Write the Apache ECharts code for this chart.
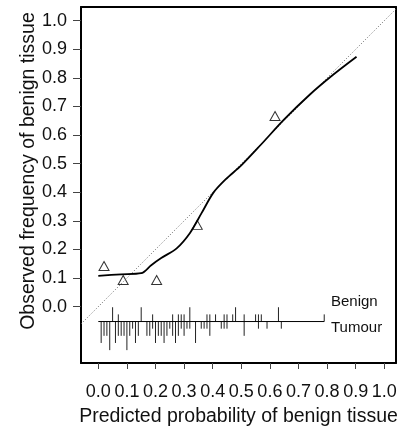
<!DOCTYPE html>
<html>
<head>
<meta charset="utf-8">
<script src="https://cdn.jsdelivr.net/npm/echarts@6/dist/echarts.min.js"></script>
<style>
  html, body { margin: 0; padding: 0; background: #fff; }
  #chart { width: 399px; height: 427px; }
</style>
</head>
<body>
<div id="chart"></div>
<script>
// axis ticks
const tickValues = [0, 0.1, 0.2, 0.3, 0.4, 0.5, 0.6, 0.7, 0.8, 0.9, 1.0];
const xMin = -0.0605, xMax = 1.041;
const yMin = -0.197, yMax = 1.048;

// smoothed calibration curve
const curveX = [0.0, 0.08, 0.150, 0.185, 0.22, 0.274, 0.32, 0.361, 0.402, 0.445, 0.50, 0.57, 0.65, 0.74, 0.82, 0.903];
const curveY = [0.108, 0.113, 0.117, 0.145, 0.170, 0.204, 0.257, 0.327, 0.398, 0.445, 0.494, 0.568, 0.655, 0.742, 0.810, 0.874];

// grouped observations (triangles)
const obsX = [0.02, 0.087, 0.204, 0.346, 0.618];
const obsY = [0.142, 0.093, 0.093, 0.286, 0.667];

// spike histogram: benign above the line, tumour below
const benignBins = [0.05, 0.07, 0.15, 0.19, 0.26, 0.28, 0.29, 0.30, 0.32, 0.38, 0.39, 0.41, 0.44, 0.45, 0.47, 0.48, 0.51, 0.55, 0.56, 0.57, 0.63, 0.79];
const benignCounts = [2, 1, 2, 1, 1, 1, 1, 1, 2, 1, 1, 1, 1, 1, 1, 2, 1, 1, 1, 1, 2, 1];
const tumourBins = [0.01, 0.02, 0.03, 0.04, 0.06, 0.07, 0.08, 0.09, 0.10, 0.11, 0.12, 0.13, 0.14, 0.17, 0.18, 0.19, 0.20, 0.21, 0.22, 0.23, 0.24, 0.25, 0.26, 0.27, 0.28, 0.29, 0.30, 0.31, 0.32, 0.34, 0.36, 0.37, 0.38, 0.39, 0.43, 0.44, 0.45, 0.51, 0.56, 0.59, 0.64];
const tumourCounts = [3, 2, 2, 4, 3, 2, 2, 2, 4, 2, 1, 3, 2, 2, 2, 1, 3, 2, 2, 3, 2, 1, 2, 3, 2, 1, 2, 1, 1, 3, 1, 1, 1, 2, 1, 1, 1, 2, 1, 1, 1];
const rugBase = -0.052;
const rugUnit = 0.025;
const rugStart = 0.0, rugEnd = 0.79;

const font = "Liberation Sans, Arial, sans-serif";

const chart = echarts.init(document.getElementById("chart"));

const spikeData = benignBins.map((x, i) => [x, benignCounts[i], 1])
  .concat(tumourBins.map((x, i) => [x, tumourCounts[i], -1]));

const boxLine = { show: true, onZero: false, lineStyle: { color: "#000", width: 2 } };

const option = {
  backgroundColor: "#fff",
  animation: false,
  grid: {
    left: 81, right: 3, top: 7, bottom: 64,
    containLabel: false,
    outerBoundsMode: "none",
  },
  xAxis: [
    {
      type: "value",
      position: "bottom",
      min: xMin, max: xMax,
      axisLine: boxLine,
      splitLine: { show: false },
      axisTick: {
        show: true, inside: false, length: 6, customValues: tickValues,
        lineStyle: { color: "#444", width: 1 },
      },
      axisLabel: {
        customValues: tickValues, margin: 20,
        formatter: (v) => v.toFixed(1),
        fontFamily: font, fontSize: 18, color: "#111",
      },
      name: "Predicted probability of benign tissue",
      nameLocation: "middle",
      nameGap: 44,
      nameTextStyle: { fontFamily: font, fontSize: 19.5, color: "#111" },
    },
    {
      type: "value",
      position: "top",
      min: xMin, max: xMax,
      axisLine: boxLine,
      splitLine: { show: false },
      axisTick: { show: false },
      axisLabel: { show: false },
    },
  ],
  yAxis: [
    {
      type: "value",
      position: "left",
      min: yMin, max: yMax,
      axisLine: boxLine,
      splitLine: { show: false },
      axisTick: {
        show: true, inside: false, length: 8, customValues: tickValues,
        lineStyle: { color: "#444", width: 1 },
      },
      axisLabel: {
        customValues: tickValues, margin: 14,
        formatter: (v) => v.toFixed(1),
        fontFamily: font, fontSize: 18, color: "#111",
      },
    },
    {
      type: "value",
      position: "right",
      min: yMin, max: yMax,
      axisLine: boxLine,
      splitLine: { show: false },
      axisTick: { show: false },
      axisLabel: { show: false },
    },
  ],
  graphic: [
    {
      type: "text", x: 29, y: 171, rotation: Math.PI / 2,
      style: {
        text: "Observed frequency of benign tissue",
        font: "19.5px " + font, fill: "#111",
        align: "center", verticalAlign: "middle",
      },
    },
    {
      type: "text", x: 331, y: 302,
      style: { text: "Benign", font: "15px " + font, fill: "#111", align: "left", verticalAlign: "middle" },
    },
    {
      type: "text", x: 331, y: 328,
      style: { text: "Tumour", font: "15px " + font, fill: "#111", align: "left", verticalAlign: "middle" },
    },
  ],
  series: [
    {
      type: "line",
      data: [[xMin, xMin], [xMax, xMax]],
      symbol: "none",
      lineStyle: { color: "#666", width: 1, type: [1, 2] },
      silent: true,
    },
    {
      type: "line",
      data: curveX.map((x, i) => [x, curveY[i]]),
      symbol: "none",
      smooth: 0.3,
      lineStyle: { color: "#000", width: 1.8 },
      silent: true,
    },
    {
      type: "scatter",
      data: obsX.map((x, i) => [x, obsY[i]]),
      symbol: "triangle",
      symbolSize: [10, 9],
      itemStyle: { color: "rgba(0,0,0,0)", borderColor: "#000", borderWidth: 1 },
      silent: true,
    },
    {
      type: "line",
      data: [[rugStart, rugBase], [rugEnd, rugBase]],
      symbol: "none",
      lineStyle: { color: "#000", width: 1 },
      silent: true,
    },
    {
      type: "custom",
      data: spikeData,
      silent: true,
      renderItem: (params, api) => {
        const x = api.value(0);
        const n = api.value(1);
        const dir = api.value(2);
        const p0 = api.coord([x, rugBase]);
        const p1 = api.coord([x, rugBase + dir * n * rugUnit]);
        return {
          type: "line",
          shape: { x1: p0[0], y1: p0[1], x2: p1[0], y2: p1[1] },
          style: { stroke: "#222", lineWidth: 1 },
        };
      },
    },
  ],
};

chart.setOption(option);
</script>
</body>
</html>
